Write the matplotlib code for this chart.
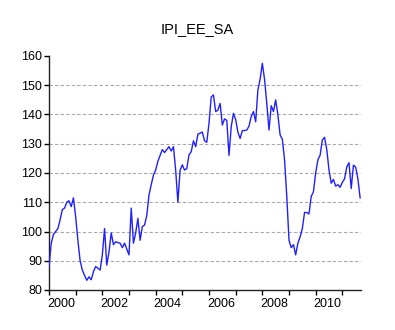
import numpy as np
import matplotlib
matplotlib.use('Agg')
import matplotlib.pyplot as plt

plt.rcParams['font.family'] = ['Liberation Sans', 'DejaVu Sans']

# monthly index, 2000M01 .. 2011M09
ipi_2000_2003 = [88, 96, 99, 100, 101, 104, 107.5, 108, 110, 110.5, 108.5, 111.5,
                 105, 97, 90, 86.8, 85, 83.3, 84.5, 83.5, 86.3, 88, 87.5, 86.8,
                 92, 101, 88.5, 93, 99.5, 95.5, 96.5, 96.2, 96, 94.5, 96, 94,
                 92, 108, 96, 99.5, 104.5, 97, 101.7, 102.2, 105.5, 112.5, 116, 119.3]
ipi_2004_2007 = [121, 124, 126, 128, 127, 128, 129, 127.5, 129, 121, 110, 121,
                 122.8, 121, 121.5, 126.2, 127.3, 131, 129, 133.3, 133.6, 134, 131, 130.5,
                 137, 146, 146.7, 141, 141.5, 143.8, 136.4, 138.5, 138, 126, 135.8, 140.4,
                 138.3, 134, 131.8, 134.5, 134.5, 134.7, 136, 139.3, 141, 137.5, 148.4, 152]
ipi_2008_2011 = [157.5, 152, 143.8, 134.7, 143, 141, 145, 139.9, 133, 131.5, 124.5, 112,
                 97, 94.5, 95.5, 92, 96, 98.2, 101, 106.5, 106.5, 106, 112, 113.6,
                 120, 124.5, 126.1, 131.3, 132.2, 128, 121, 116.5, 117.8, 115.5, 116, 115.1,
                 116.8, 118, 122.1, 123.5, 114.7, 122.7, 122, 118, 111.5]

ipi = np.array(ipi_2000_2003 + ipi_2004_2007 + ipi_2008_2011)
t = 2000 + np.arange(len(ipi)) / 12.0

year_ticks = np.arange(2000, 2012)
label_years = [2000, 2002, 2004, 2006, 2008, 2010]
y_ticks = [80, 90, 100, 110, 120, 130, 140, 150, 160]

fig = plt.figure(figsize=(3.95, 3.30), dpi=100)
ax = fig.add_axes([49 / 395, 40 / 330, 312 / 395, 234 / 330])

for v in y_ticks[1:-1]:
    ax.axhline(v, color='#a8a8a8', lw=0.8, ls=(0, (3, 2)), zorder=1)

ax.plot(t, ipi, color='#2020ff', lw=1.0, zorder=3)

ax.set_xlim(2000, 2011.7)
ax.set_ylim(80, 160)

ax.set_yticks(y_ticks)
ax.tick_params(axis='y', direction='out', length=3.8, width=1, labelsize=9, pad=1.2)

# year marks as minor ticks, labels sit in the middle of each even year
ax.set_xticks(year_ticks, minor=True)
ax.set_xticks([y + 0.45 for y in label_years])
ax.set_xticklabels([str(y) for y in label_years])
ax.tick_params(axis='x', which='minor', direction='out', length=3.6, width=1)
ax.tick_params(axis='x', which='major', length=0, labelsize=9, pad=5.5)

for s in ['top', 'right']:
    ax.spines[s].set_visible(False)
for s in ['left', 'bottom']:
    ax.spines[s].set_linewidth(1.0)
    ax.spines[s].set_color('#222222')

fig.text(0.5, 1 - 29 / 330, 'IPI_EE_SA', ha='center', va='center', fontsize=10.5)

fig.savefig('out.png', dpi=100)
